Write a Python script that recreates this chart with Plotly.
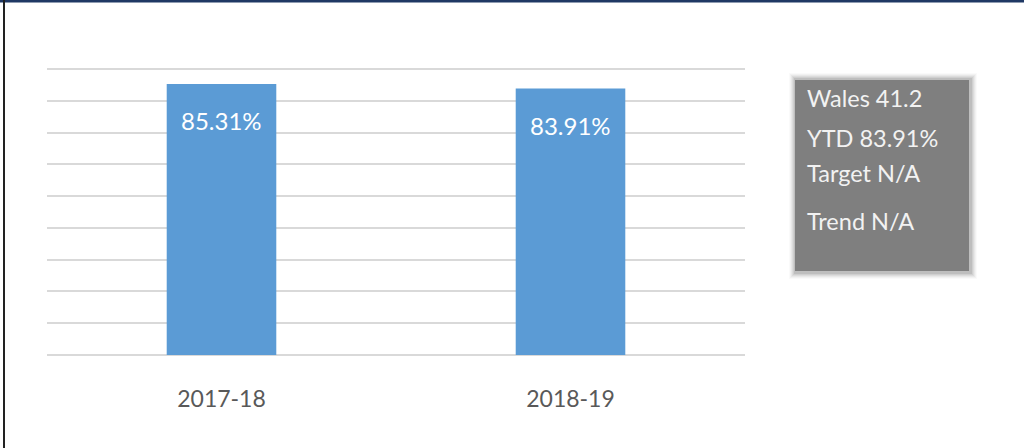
import plotly.graph_objects as go

categories = ["2017-18", "2018-19"]
values = [85.31, 83.91]
bar_labels = ["85.31%", "83.91%"]
info_lines = ["Wales 41.2", "YTD 83.91%", "Target N/A", "Trend N/A"]

W, H = 1024, 448
L, R, T, B = 47, 745, 66, 355  # plot area in pixels

def px(x):
    return (x - L) / (R - L)

def py(y):
    return (B - y) / (B - T)

fig = go.Figure()
fig.add_trace(go.Bar(
    x=categories, y=values,
    marker=dict(color="#5b9bd5", line=dict(width=0)),
    width=0.314,
    hoverinfo="skip",
))

font = "Lato, 'Open Sans', sans-serif"

for c, v, t in zip(categories, values, bar_labels):
    fig.add_annotation(x=c, y=v, text=t, showarrow=False, yanchor="top",
                       yshift=-20, font=dict(size=24, color="white", family=font))

shapes = []
# soft shadow of info box, slightly offset to bottom-right
for i, op in enumerate([0.02, 0.03, 0.04, 0.05, 0.06, 0.08]):
    d = 6 - i
    shapes.append(dict(type="rect", xref="paper", yref="paper",
                       x0=px(794 - d + 1), x1=px(971 + d), y0=py(273 + d), y1=py(78 - d + 1),
                       fillcolor="rgba(0,0,0,%s)" % op, line=dict(width=0), layer="above"))
shapes.append(dict(type="rect", xref="paper", yref="paper",
                   x0=px(795), x1=px(969), y0=py(271), y1=py(80),
                   fillcolor="#7f7f7f", line=dict(width=0), layer="above"))
# top border
shapes.append(dict(type="line", xref="paper", yref="paper",
                   x0=px(0), x1=px(1024), y0=py(1), y1=py(1),
                   line=dict(color="#1f3864", width=3), layer="above"))
# left border
shapes.append(dict(type="line", xref="paper", yref="paper",
                   x0=px(4), x1=px(4), y0=py(0), y1=py(448),
                   line=dict(color="#222222", width=2), layer="above"))

line_y = [98, 138, 173, 221]
for t, yy in zip(info_lines, line_y):
    fig.add_annotation(xref="paper", yref="paper", x=px(805), y=py(yy), text=t,
                       showarrow=False, xanchor="left", yanchor="middle",
                       font=dict(size=23.5, color="#f2f2f2", family=font))

fig.update_layout(
    width=W, height=H,
    margin=dict(l=L, r=W - R, t=T, b=H - B),
    paper_bgcolor="white", plot_bgcolor="white",
    showlegend=False,
    shapes=shapes,
    xaxis=dict(showgrid=False, showline=False, ticks="", zeroline=False,
               tickfont=dict(size=23, color="#595959", family=font),
               ticklabelstandoff=28, fixedrange=True),
    yaxis=dict(range=[0, 91], tickvals=[0, 10, 20, 30, 40, 50, 60, 70, 80, 90],
               showticklabels=False, showgrid=True,
               gridcolor="#d9d9d9", gridwidth=2, zeroline=True, zerolinecolor="#d9d9d9",
               zerolinewidth=2, fixedrange=True),
)

fig.write_html("out.html", config={"displayModeBar": False},
               post_script="document.body.style.margin='0';document.body.style.overflow='hidden';")
